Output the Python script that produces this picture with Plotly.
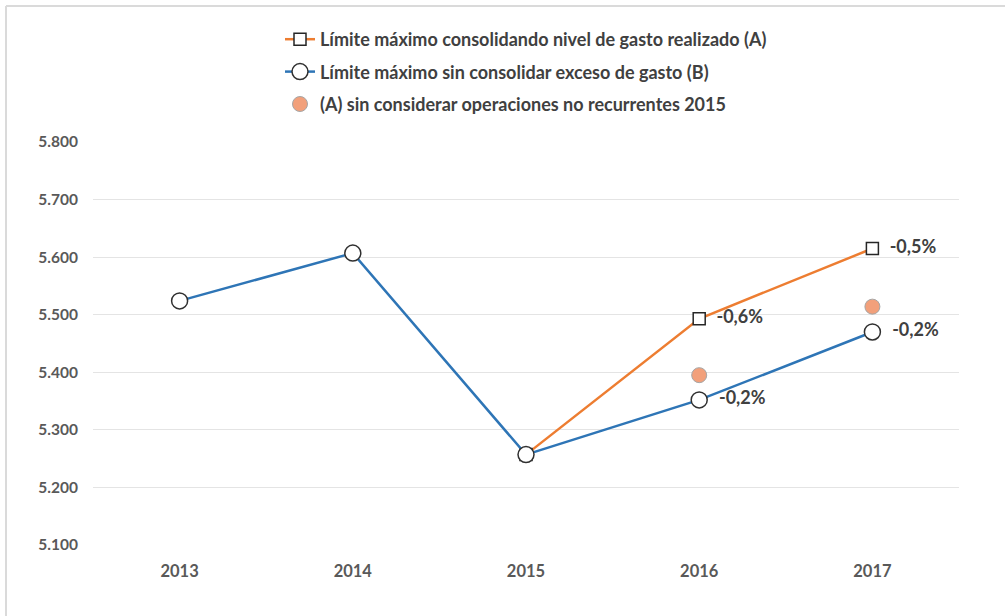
import plotly.graph_objects as go

years = ["2013", "2014", "2015", "2016", "2017"]
serie_a = [None, None, 5257, 5493, 5615]
serie_b = [5524, 5607, 5257, 5352, 5470]
serie_c = [None, None, None, 5395, 5514]
labels_a = ["", "", "", "  -0,6%", "  -0,5%"]
labels_b = ["", "", "", "  -0,2%", "  -0,2%"]

name_a = "Límite máximo consolidando nivel de gasto realizado (A)"
name_b = "Límite máximo sin consolidar exceso de gasto (B)"
name_c = "(A) sin considerar operaciones no recurrentes 2015"

FONT = "Lato"
TXT = "#404040"

fig = go.Figure()
fig.add_trace(go.Scatter(
    x=years, y=serie_a, name=name_a, legendgroup="a",
    mode="lines+markers+text", text=labels_a, textposition="middle right",
    textfont=dict(family=FONT, size=18, color=TXT, weight="bold"),
    line=dict(color="#ED7D31", width=2.5),
    marker=dict(symbol="square", size=12, color="white", line=dict(color="#262626", width=1.5)),
    cliponaxis=False,
))
fig.add_trace(go.Scatter(
    x=years, y=serie_b, name=name_b, legendgroup="b",
    mode="lines+markers+text", text=labels_b, textposition="middle right",
    textfont=dict(family=FONT, size=18, color=TXT, weight="bold"),
    line=dict(color="#2E75B6", width=2.5),
    marker=dict(symbol="circle", size=16, color="white", line=dict(color="#303030", width=1.5)),
    cliponaxis=False,
))
fig.add_trace(go.Scatter(
    x=years, y=serie_c, name=name_c, legendgroup="c",
    mode="markers",
    marker=dict(symbol="circle", size=15, color="#F2A07B", line=dict(color="#A6A6A6", width=1)),
    cliponaxis=False,
))

def px_x(p):
    return (p - 93) / 866

def px_y(p):
    return (545 - p) / 403

fig.update_layout(
    width=1005, height=616,
    margin=dict(l=93, r=46, t=142, b=71),
    paper_bgcolor="white", plot_bgcolor="white",
    separators=",.",
    font=dict(family=FONT, color=TXT, size=18),
    showlegend=True,
    legend=dict(
        x=px_x(280), y=px_y(21), xanchor="left", yanchor="top",
        orientation="v", tracegroupgap=6,
        font=dict(family=FONT, size=18, color=TXT, weight="bold"),
        bgcolor="rgba(0,0,0,0)", itemwidth=30,
    ),
    xaxis=dict(
        type="category", range=[-0.5, 4.5], showgrid=False, showline=False, ticks="",
        tickfont=dict(family=FONT, size=16.5, color="#595959", weight="bold"),
        ticklabelstandoff=14,
    ),
    yaxis=dict(
        range=[5100, 5800], dtick=100, tickformat=",.0f",
        showgrid=True, gridcolor="#E4E4E4", gridwidth=1,
        zeroline=False, showline=False, ticks="",
        tickfont=dict(family=FONT, size=15.5, color="#595959", weight="bold"),
        ticklabelstandoff=14,
    ),
    shapes=[
        dict(type="line", xref="paper", yref="paper",
             x0=px_x(6), x1=px_x(6), y0=px_y(6), y1=px_y(630),
             line=dict(color="#DADADA", width=2)),
        dict(type="line", xref="paper", yref="paper",
             x0=px_x(6), x1=px_x(1010), y0=px_y(6), y1=px_y(6),
             line=dict(color="#DADADA", width=2)),
    ],
)

fig.write_html("out.html")
